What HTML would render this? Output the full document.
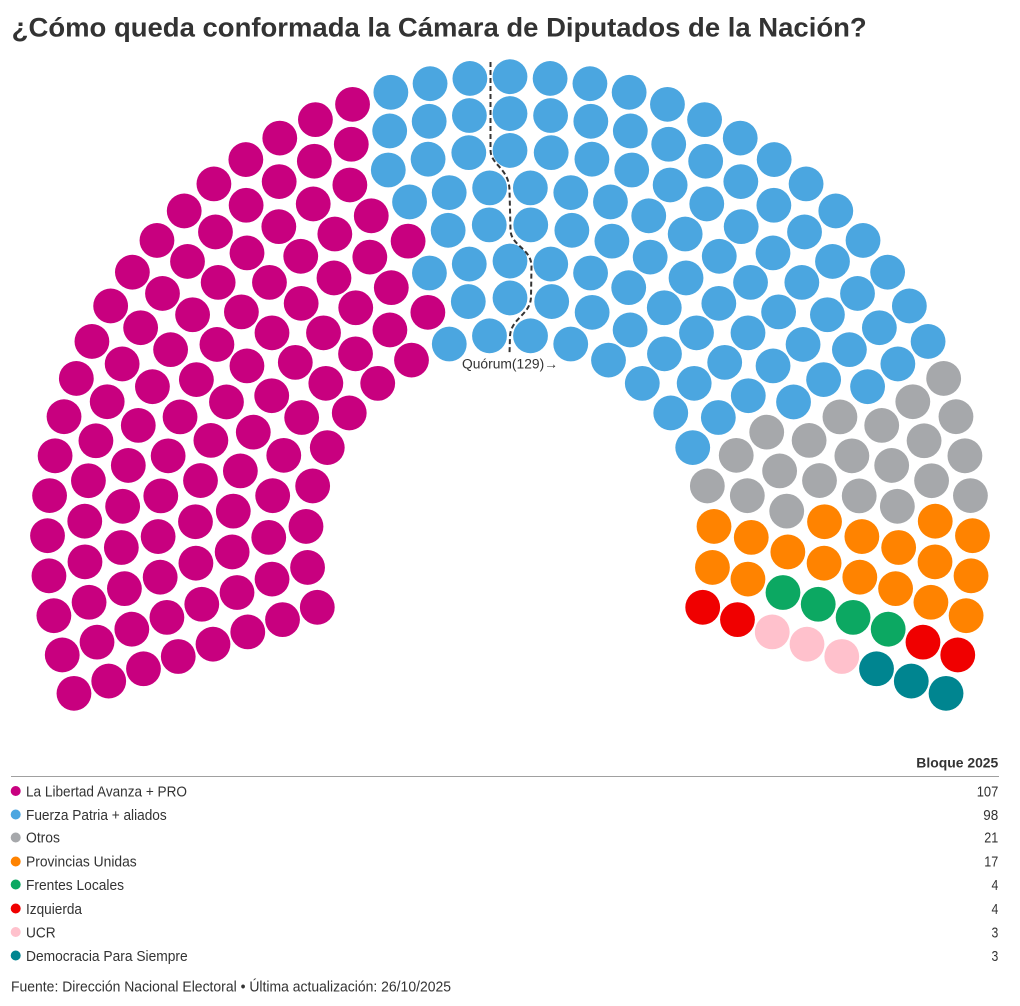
<!DOCTYPE html>
<html>
<head>
<meta charset="utf-8">
<style>
  html,body{margin:0;padding:0;background:#fff;}
  body{width:1020px;height:1006px;overflow:hidden;}
  svg{display:block;font-family:"Liberation Sans",Arial,sans-serif;}
</style>
</head>
<body>
<svg id="chart" width="1020" height="1006" viewBox="0 0 1020 1006">
  <rect x="0" y="0" width="1020" height="1006" fill="#ffffff"/>
  <text x="11.7" y="36.7" font-size="26.5" font-weight="700" fill="#333" textLength="855" lengthAdjust="spacingAndGlyphs">¿Cómo queda conformada la Cámara de Diputados de la Nación?</text>

  <g id="seats"></g>

  <path d="M490.5,62 L490.5,150 C490.5,165 509,168 509.5,190 L510.5,230 C511,246 531,248 531.5,266 L531,297 C530.5,315 511,318 510,336 L509.5,354" fill="none" stroke="#333" stroke-width="2" stroke-dasharray="5,3"/>
  <text x="510" y="368.5" font-size="13.5" fill="#333" text-anchor="middle" textLength="96" lengthAdjust="spacingAndGlyphs">Quórum(129)→</text>

  <text x="998.3" y="767.7" font-size="14" font-weight="700" fill="#333" text-anchor="end" textLength="82" lengthAdjust="spacingAndGlyphs">Bloque 2025</text>
  <line x1="11" y1="776.5" x2="999" y2="776.5" stroke="#a0a0a0" stroke-width="1"/>

  <g font-size="15" fill="#333">
    <circle cx="15.7" cy="791" r="5" fill="#C8007F"/>
    <text x="26" y="796.7" textLength="161" lengthAdjust="spacingAndGlyphs">La Libertad Avanza + PRO</text>
    <text x="998.3" y="796.7" text-anchor="end" textLength="21.6" lengthAdjust="spacingAndGlyphs">107</text>

    <circle cx="15.7" cy="814.5" r="5" fill="#4BA6E0"/>
    <text x="26" y="820" textLength="140.7" lengthAdjust="spacingAndGlyphs">Fuerza Patria + aliados</text>
    <text x="998.3" y="820" text-anchor="end" textLength="15" lengthAdjust="spacingAndGlyphs">98</text>

    <circle cx="15.7" cy="837.5" r="5" fill="#A6A8AB"/>
    <text x="26" y="842.7" textLength="34" lengthAdjust="spacingAndGlyphs">Otros</text>
    <text x="998.3" y="842.7" text-anchor="end" textLength="14" lengthAdjust="spacingAndGlyphs">21</text>

    <circle cx="15.7" cy="861.5" r="5" fill="#FF8300"/>
    <text x="26" y="866.7" textLength="110.7" lengthAdjust="spacingAndGlyphs">Provincias Unidas</text>
    <text x="998.3" y="866.7" text-anchor="end" textLength="14" lengthAdjust="spacingAndGlyphs">17</text>

    <circle cx="15.7" cy="884.5" r="5" fill="#0CA862"/>
    <text x="26" y="890" textLength="98" lengthAdjust="spacingAndGlyphs">Frentes Locales</text>
    <text x="998.3" y="890" text-anchor="end" textLength="6.8" lengthAdjust="spacingAndGlyphs">4</text>

    <circle cx="15.7" cy="908.5" r="5" fill="#F00000"/>
    <text x="26" y="914" textLength="56" lengthAdjust="spacingAndGlyphs">Izquierda</text>
    <text x="998.3" y="914" text-anchor="end" textLength="6.8" lengthAdjust="spacingAndGlyphs">4</text>

    <circle cx="15.7" cy="932" r="5" fill="#FFC1CC"/>
    <text x="26" y="937.3" textLength="29.7" lengthAdjust="spacingAndGlyphs">UCR</text>
    <text x="998.3" y="937.3" text-anchor="end" textLength="6.8" lengthAdjust="spacingAndGlyphs">3</text>

    <circle cx="15.7" cy="955.5" r="5" fill="#008590"/>
    <text x="26" y="961" textLength="161.7" lengthAdjust="spacingAndGlyphs">Democracia Para Siempre</text>
    <text x="998.3" y="961" text-anchor="end" textLength="6.8" lengthAdjust="spacingAndGlyphs">3</text>
  </g>

  <text x="11" y="991.5" font-size="14.5" fill="#333" textLength="440" lengthAdjust="spacingAndGlyphs">Fuente: Dirección Nacional Electoral • Última actualización: 26/10/2025</text>
</svg>
<script>
(function(){
  var g = document.getElementById('seats');
  var NS = g.namespaceURI;
  var cx = 510, cy = 539.2, r0 = 204.4, dr = 36.87;
  var n = [20,23,27,30,34,37,41,45];
  var ext = 19.47, span = 180 + 2*ext, start = 180 + ext;
  var seats = [];
  for (var i = 0; i < n.length; i++) {
    for (var k = 0; k < n[i]; k++) {
      seats.push({t: k/(n[i]-1), i: i});
    }
  }
  seats.sort(function(a,b){
    if (Math.abs(a.t - b.t) > 1e-9) return a.t - b.t;
    return a.i - b.i;
  });
  var parties = [
    [107,'#C8007F'],[98,'#4BA6E0'],[21,'#A6A8AB'],[17,'#FF8300'],
    [4,'#0CA862'],[4,'#F00000'],[3,'#FFC1CC'],[3,'#008590']
  ];
  var idx = 0;
  for (var p = 0; p < parties.length; p++) {
    for (var j = 0; j < parties[p][0]; j++) {
      var s = seats[idx++];
      if (!s) break;
      var a = (start - s.t*span) * Math.PI / 180;
      var r = r0 + s.i*dr;
      var c = document.createElementNS(NS, 'circle');
      c.setAttribute('cx', (cx + r*Math.cos(a)).toFixed(2));
      c.setAttribute('cy', (cy - r*Math.sin(a)).toFixed(2));
      c.setAttribute('r', '17.4');
      c.setAttribute('fill', parties[p][1]);
      g.appendChild(c);
    }
  }
})();
</script>
</body>
</html>
